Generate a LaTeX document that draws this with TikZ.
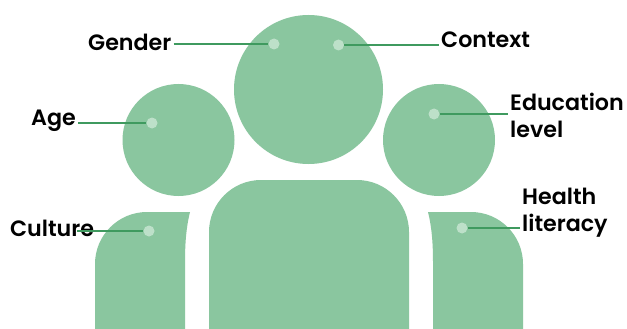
\documentclass[tikz,border=0pt]{standalone}
\usepackage{fontspec}
\setmainfont{Poppins SemiBold}
\usepackage{tikz}
\definecolor{bodygreen}{HTML}{8AC69F}
\definecolor{dotgreen}{HTML}{BDE0C9}
\definecolor{linegreen}{HTML}{3F9A5F}
\tikzset{
  dotnode/.style={circle,fill=dotgreen,inner sep=0pt,minimum size=11pt},
  labelnode/.style={inner sep=2pt,align=left,text=black,font=\fontsize{22.2}{27}\selectfont},
  leader/.style={draw=linegreen,line width=2pt}
}

\begin{document}
\begin{tikzpicture}[x=1pt,y=-1pt]
\useasboundingbox (0,0) rectangle (627,329);
\fill[white] (0,0) rectangle (627,329);
\fill[bodygreen] (308.5,89.5) circle (74.5);
\fill[bodygreen] (178.5,140) circle (56);
\fill[bodygreen] (439,140) circle (56);
\fill[bodygreen] (209,329) -- (209,232) arc[start angle=180,end angle=270,radius=52] -- (357,180) arc[start angle=270,end angle=360,radius=52] -- (409,329) -- cycle;
\fill[bodygreen] (95,329) -- (95,264) arc[start angle=180,end angle=270,radius=52] -- (190,212) .. controls (186,228) and (185,245) .. (185,262) -- (185,329) -- cycle;
\fill[bodygreen] (523,329) -- (523,264) arc[start angle=0,end angle=-90,radius=52] -- (428,212) .. controls (432,228) and (433,245) .. (433,262) -- (433,329) -- cycle;
\node[dotnode] (dotgender) at (274,44) {};
\node[dotnode] (dotcontext) at (338.5,45) {};
\node[dotnode] (dotage) at (152,123) {};
\node[dotnode] (doteducation) at (434,114) {};
\node[dotnode] (dotculture) at (149,231) {};
\node[dotnode] (dothealth) at (462,228) {};
\node[labelnode,anchor=base west] (gender) at (86,51) {Gender};
\node[labelnode,anchor=base west] (context) at (439,48) {Context};
\node[labelnode,anchor=base west] (age) at (29,125) {Age};
\node[labelnode,anchor=west] (education) at (508,115) {Education\\level};
\node[labelnode,anchor=west] (health) at (520,213) {Health\\literacy};
\node[labelnode,anchor=base west] (culture) at (8,236) {Culture};
\coordinate (culturestart) at (77,231);
\draw[leader] (gender.east |- dotgender.west) -- (dotgender.west);
\draw[leader] (dotcontext.east) -- (context.west |- dotcontext.east);
\draw[leader] (age.east |- dotage.west) -- (dotage.west);
\draw[leader] (doteducation.east) -- (education.west |- doteducation.east);
\draw[leader] (culturestart) -- (dotculture.west);
\draw[leader] (dothealth.east) -- (health.west |- dothealth.east);
\end{tikzpicture}
\end{document}
